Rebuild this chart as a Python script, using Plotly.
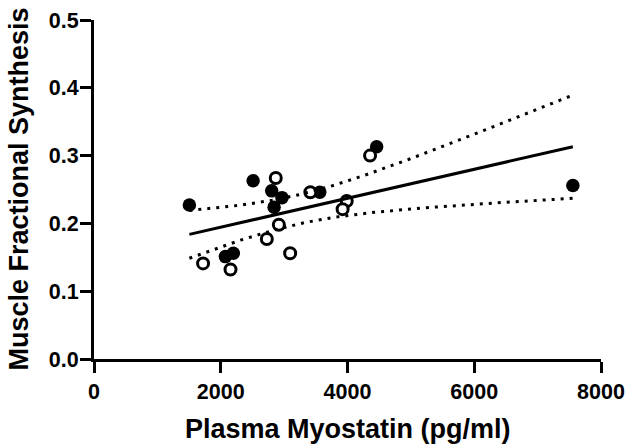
import numpy as np
import plotly.graph_objects as go

# Filled circles
filled_x = [1505, 2511, 2804, 2966, 2842, 3562, 4460, 7556, 2073, 2198]
filled_y = [0.227, 0.263, 0.248, 0.238, 0.224, 0.246, 0.313, 0.256, 0.151, 0.156]
# Open circles
open_x = [2868, 3414, 4356, 3988, 3923, 2917, 2727, 3095, 1721, 2154]
open_y = [0.267, 0.246, 0.300, 0.233, 0.221, 0.198, 0.177, 0.156, 0.141, 0.132]

x_ticks = [0, 2000, 4000, 6000, 8000]
y_ticks = [0.0, 0.1, 0.2, 0.3, 0.4, 0.5]
x_title = "Plasma Myostatin (pg/ml)"
y_title = "Muscle Fractional Synthesis"

# Linear regression on all points with 95% confidence band
X = np.array(filled_x + open_x, dtype=float)
Y = np.array(filled_y + open_y, dtype=float)
n = len(X)
slope, intercept = np.polyfit(X, Y, 1)
resid = Y - (slope * X + intercept)
s = np.sqrt(np.sum(resid ** 2) / (n - 2))
sxx = np.sum((X - X.mean()) ** 2)
t_crit = 2.1009  # t(0.975, df=18)
xf = np.linspace(X.min(), X.max(), 200)
yf = slope * xf + intercept
half = t_crit * s * np.sqrt(1.0 / n + (xf - X.mean()) ** 2 / sxx)

FONT = "Liberation Sans"

fig = go.Figure()
fig.add_trace(go.Scatter(x=filled_x, y=filled_y, mode="markers",
                         marker=dict(symbol="circle", size=13.5, color="black"),
                         showlegend=False, cliponaxis=False))
fig.add_trace(go.Scatter(x=open_x, y=open_y, mode="markers",
                         marker=dict(symbol="circle", size=11, color="white",
                                     line=dict(color="black", width=3)),
                         showlegend=False, cliponaxis=False))
fig.add_trace(go.Scatter(x=xf, y=yf, mode="lines",
                         line=dict(color="black", width=3), showlegend=False))
for band in (yf + half, yf - half):
    fig.add_trace(go.Scatter(x=xf, y=band, mode="lines",
                             line=dict(color="black", width=3, dash="3px,6px"),
                             showlegend=False))

axis_common = dict(
    showline=True, linewidth=3, linecolor="black", showgrid=False, zeroline=False,
    ticks="outside", ticklen=11, tickwidth=3, tickcolor="black", automargin=False,
    tickfont=dict(family=FONT, size=21.5, color="black", weight="bold"),
)

fig.update_layout(
    width=628, height=445,
    margin=dict(l=94, r=27, t=20, b=86),
    paper_bgcolor="white", plot_bgcolor="white",
    xaxis=dict(range=[0, 8000], tickvals=x_ticks, ticktext=[str(v) for v in x_ticks],
               **axis_common),
    yaxis=dict(range=[0, 0.5], tickvals=y_ticks, ticktext=[f"{v:.1f}" for v in y_ticks],
               ticklabelstandoff=-3, **axis_common),
    annotations=[
        dict(text=x_title, xref="paper", yref="paper", x=0.5, y=0,
             xanchor="center", yanchor="middle", yshift=-70, showarrow=False,
             font=dict(family=FONT, size=27, color="black", weight="bold")),
        dict(text=y_title, xref="paper", yref="paper", x=0, y=0.5, textangle=-90,
             xanchor="center", yanchor="middle", xshift=-76, showarrow=False,
             font=dict(family=FONT, size=27, color="black", weight="bold")),
    ],
)

fig.write_html("out.html", config={"displayModeBar": False},
               post_script="document.body.style.margin='0';")
